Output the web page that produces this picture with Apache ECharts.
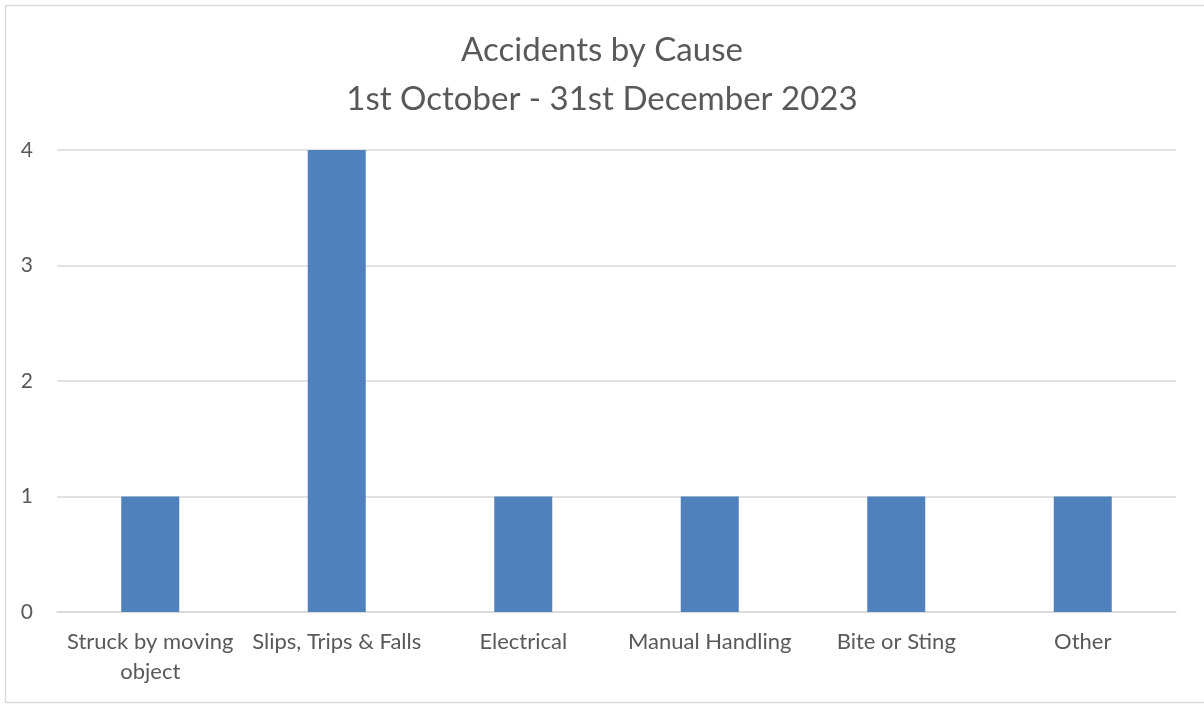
<!DOCTYPE html>
<html><head><meta charset="utf-8">
<script src="https://cdn.jsdelivr.net/npm/echarts@6/dist/echarts.min.js"></script>
<style>html,body{margin:0;padding:0;background:#fff}#c{width:1204px;height:705px}</style>
</head><body><div id="c"></div>
<script>
const categories = ['Struck by moving\nobject', 'Slips, Trips & Falls', 'Electrical', 'Manual Handling', 'Bite or Sting', 'Other'];
const values = [1, 4, 1, 1, 1, 1];
const yTicks = [0, 1, 2, 3, 4];
const titleLines = ['Accidents by Cause', '1st October - 31st December 2023'];

const font = 'Lato, "Open Sans", "Liberation Sans", sans-serif';
const chart = echarts.init(document.getElementById('c'), null, {renderer: 'canvas'});
chart.setOption({
  animation: false,
  backgroundColor: '#fff',
  graphic: [{
    type: 'rect', shape: {x: 5.5, y: 5.5, width: 1210, height: 697},
    style: {fill: 'none', stroke: '#d9d9d9', lineWidth: 1.5}, silent: true
  }],
  title: {
    text: titleLines.join('\n'),
    left: 'center', top: 21,
    textStyle: {fontFamily: font, fontSize: 33, fontWeight: 'normal', color: '#595959', lineHeight: 49}
  },
  grid: {left: 57, right: 28, top: 150, bottom: 93},
  xAxis: {
    type: 'category', data: categories,
    axisLine: {lineStyle: {color: '#d9d9d9', width: 1.5}},
    axisTick: {show: false},
    axisLabel: {fontFamily: font, fontSize: 22, color: '#595959', margin: 15, lineHeight: 30, interval: 0}
  },
  yAxis: {
    type: 'value', min: yTicks[0], max: yTicks[yTicks.length - 1], interval: 1,
    axisLine: {show: false}, axisTick: {show: false},
    splitLine: {lineStyle: {color: '#d9d9d9', width: 1.5}},
    axisLabel: {fontFamily: font, fontSize: 21, color: '#595959', margin: 24}
  },
  series: [{
    type: 'bar', data: values, barWidth: 58,
    itemStyle: {color: '#4F81BD'}
  }]
});
</script></body></html>
